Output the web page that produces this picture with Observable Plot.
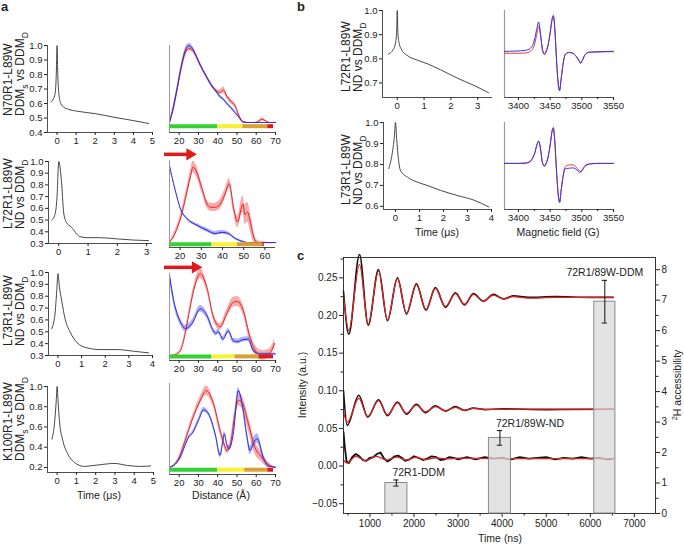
<!DOCTYPE html>
<html><head><meta charset="utf-8">
<script src="https://cdn.jsdelivr.net/npm/d3@7"></script>
<script src="https://cdn.jsdelivr.net/npm/@observablehq/plot@0.6"></script>
<style>
body{margin:0;background:#fff;}
#fig{position:relative;width:684px;height:545px;overflow:hidden;background:#fff;}
#fig svg{position:absolute;}
</style></head><body><div id="fig"></div>
<script>
// ================= DATA =================
// Panel a — DEER time traces (time in µs, normalised echo)
const a1T = [-0.32,-0.2,-0.1,-0.04,0,0.04,0.1,0.2,0.35,0.6,1,2,3,4,4.8];
const a1V = [0.61,0.63,0.67,0.8,1.0,0.8,0.66,0.6,0.575,0.56,0.548,0.53,0.505,0.482,0.462];
const a2T = [-0.24,-0.14,-0.06,0,0.09,0.17,0.26,0.43,0.71,0.94,1.39,1.96,2.52,3.06];
const a2V = [0.5,0.54,0.69,1.0,0.84,0.56,0.48,0.44,0.36,0.35,0.35,0.34,0.33,0.325];
const a3T = [-0.27,-0.13,-0.05,0,0.06,0.16,0.3,0.51,0.8,1.22,1.79,2.5,3.2,3.84];
const a3V = [0.525,0.64,0.85,0.99,0.88,0.76,0.61,0.5,0.41,0.365,0.35,0.35,0.336,0.322];
const a4T = [-0.27,-0.14,-0.05,0,0.05,0.12,0.29,0.55,0.89,1.41,1.92,2.6,2.95,3.64,4.33,4.85];
const a4V = [0.48,0.63,0.85,1.0,0.85,0.66,0.47,0.335,0.25,0.21,0.22,0.235,0.24,0.22,0.21,0.215];

// Panel a — distance distributions (Å); value, confidence half-width
const a1X    = [15,17,19,21,23,25,27,29,31,33,35,37,39,41,43,45,47,49,51,53,55,57,59,61,63,65,67,70];
const a1Red  = [0,0.18,0.43,0.69,0.89,0.96,0.94,0.85,0.74,0.65,0.56,0.48,0.42,0.39,0.42,0.33,0.27,0.22,0.09,0.01,0,0,0,0.01,0.04,0.02,0,0];
const a1RedW = [0,0.02,0.02,0.02,0.03,0.03,0.03,0.02,0.02,0.02,0.02,0.02,0.02,0.03,0.04,0.03,0.03,0.03,0.03,0.02,0.01,0,0,0.01,0.02,0.01,0,0];
const a1Blue = [0,0.2,0.45,0.72,0.92,1.0,0.96,0.86,0.75,0.65,0.56,0.47,0.41,0.34,0.3,0.24,0.19,0.13,0.07,0.01,0,0,0,0,0,0,0,0];
const a1BlueW= [0,0.02,0.02,0.02,0.03,0.03,0.03,0.02,0.02,0.02,0.02,0.02,0.02,0.02,0.02,0.02,0.02,0.02,0.01,0,0,0,0,0,0,0,0,0];

const a2RedX = [15,17,19.4,21,23.3,25,26.1,27.5,29.6,31,32.7,34.5,36.6,39,41.3,43.2,45.2,47.1,49.6,50.6,51.8,53.8,55.4,57,65];
const a2Red  = [0,0.08,0.23,0.37,0.63,0.82,0.92,0.88,0.72,0.6,0.47,0.43,0.43,0.47,0.6,0.72,0.43,0.25,0.47,0.34,0.37,0.17,0.02,0,0];
const a2RedW = [0,0.03,0.04,0.05,0.06,0.07,0.07,0.07,0.06,0.05,0.05,0.05,0.05,0.06,0.06,0.06,0.06,0.07,0.1,0.12,0.12,0.1,0.05,0.02,0];
const a2BlueX= [15,16,17.8,20.2,23.3,28,32.7,36.6,39.7,42.8,46,49.9,52,65];
const a2Blue = [0.94,0.82,0.63,0.41,0.29,0.21,0.15,0.11,0.125,0.11,0.05,0.01,0,0];
const a2BlueW= [0.01,0.01,0.01,0.01,0.015,0.02,0.025,0.025,0.025,0.02,0.015,0.01,0,0];

const a3RedX = [15,18,20.7,23,25,28.4,31,34.4,37.8,41.3,44.7,48.1,50.2,53.3,56.8,60.2,63.6,66,67.9,69.6];
const a3Red  = [0,0.01,0.06,0.25,0.5,0.87,1.0,0.83,0.47,0.35,0.51,0.65,0.66,0.55,0.22,0.04,0,0.02,0.06,0.15];
const a3RedW = [0,0.01,0.02,0.03,0.04,0.05,0.06,0.05,0.04,0.04,0.05,0.06,0.06,0.06,0.06,0.06,0.06,0.05,0.05,0.06];
const a3BlueX= [15,17.2,20.7,23.2,26.7,31,34.4,37.8,39,40.4,42.7,45.6,48.1,50.5,52.5,55.9,58.5,62,70];
const a3Blue = [0.98,0.67,0.41,0.33,0.39,0.57,0.49,0.3,0.27,0.29,0.2,0.3,0.18,0.17,0.19,0.2,0.06,0.02,0.02];
const a3BlueW= [0.06,0.05,0.04,0.04,0.04,0.04,0.04,0.03,0.03,0.03,0.03,0.03,0.03,0.03,0.03,0.03,0.02,0.01,0.01];

const a4RedX = [15,19,23.2,26.7,31,34.1,37.8,41.3,43.5,44.7,46.4,49,50.7,52.5,55.9,59.3,62.7,67,70];
const a4Red  = [0,0.07,0.34,0.59,0.84,0.96,0.8,0.46,0.28,0.21,0.27,0.67,0.84,0.82,0.55,0.25,0.13,0.02,0];
const a4RedW = [0,0.02,0.03,0.04,0.05,0.06,0.05,0.05,0.04,0.04,0.05,0.06,0.07,0.08,0.09,0.08,0.06,0.03,0];
const a4BlueX= [15,17,20.7,23,25,26.7,30.1,32.7,35.3,38.7,41.3,42.5,43.5,44.6,45.9,48.1,50.7,53,55,56.8,58.5,60.6,63.6,66.2,70];
const a4Blue = [0,0.02,0.13,0.27,0.38,0.42,0.59,0.72,0.67,0.42,0.15,0.3,0.42,0.3,0.23,0.42,0.96,0.75,0.42,0.21,0.3,0.36,0.13,0.02,0];
const a4BlueW= [0,0.01,0.02,0.02,0.02,0.02,0.03,0.03,0.03,0.03,0.03,0.03,0.03,0.03,0.03,0.03,0.04,0.04,0.04,0.05,0.06,0.06,0.04,0.02,0];

// reliability ranges (Å): green / yellow / orange / red boundaries
const a1Seg = [15,40,53,66,69];
const a2Seg = [15,35,47,59,59.7];
const a3Seg = [15,37,49,61.5,69];
const a4Seg = [15,40,54,66,69];
// shift arrows (Å)
const a2Shift = [15,26.5];
const a3Shift = [15,30.5];

// Panel b — DEER traces
const b1T = [-0.33,-0.14,-0.06,-0.02,0,0.02,0.06,0.15,0.36,0.74,1.11,1.61,2.24,2.86,3.4];
const b1V = [0.82,0.84,0.87,0.92,1.0,0.92,0.87,0.84,0.815,0.795,0.78,0.755,0.72,0.69,0.66];
const b2T = [-0.28,-0.14,-0.05,0,0.05,0.1,0.21,0.49,0.9,1.32,1.88,2.57,3.26,3.89];
const b2V = [0.78,0.85,0.93,1.0,0.92,0.85,0.77,0.74,0.716,0.7,0.676,0.652,0.63,0.597];
// Panel b — CW EPR spectra (field in G)
const bField = [3378,3400,3412,3418,3422,3426,3429,3432,3435,3438,3441,3444,3447,3450,3453,3455,3457,3459,3461,3463,3465,3467,3470,3474,3480,3486,3491,3495,3498,3501,3505,3512,3525,3550];
const b1Blue = [0.03,0.04,0.06,0.1,0.18,0.38,0.62,0.8,0.45,0.08,-0.03,0.05,0.22,0.5,0.85,0.95,0.7,0.15,-0.45,-0.85,-1.0,-0.75,-0.35,-0.05,0,-0.02,-0.1,-0.2,-0.28,-0.2,-0.06,0.01,0.02,0.03];
const b1Red  = [-0.02,-0.02,-0.01,0.02,0.08,0.25,0.48,0.68,0.45,0.04,-0.06,0.02,0.2,0.52,0.88,0.98,0.72,0.15,-0.45,-0.85,-1.0,-0.75,-0.35,-0.05,0,-0.02,-0.1,-0.2,-0.28,-0.2,-0.06,0,0.01,0.02];
const b2Blue = [0,0,0.01,0.05,0.14,0.3,0.5,0.6,0.36,0,-0.08,0,0.18,0.48,0.85,0.95,0.68,0.12,-0.45,-0.88,-1.05,-0.78,-0.4,-0.14,-0.13,-0.12,-0.16,-0.22,-0.24,-0.18,-0.08,-0.02,0,0];
const b2Red  = [0,0,0.01,0.04,0.12,0.28,0.48,0.6,0.38,0.02,-0.06,0.02,0.2,0.5,0.87,0.97,0.68,0.12,-0.45,-0.88,-1.05,-0.78,-0.38,-0.08,-0.04,-0.04,-0.1,-0.18,-0.22,-0.16,-0.06,-0.01,0,0];

// Panel c — ESEEM traces (time ns, intensity a.u.)
const cTopT    = [400,520,763,960,1194,1398,1624,1829,2055,2270,2486,2713,2940,3144,3348,3575,3800,4030,4250,4600,5200,6000,6520];
const cTopFit  = [0.226,0.18,0.268,0.188,0.259,0.194,0.249,0.203,0.241,0.208,0.236,0.212,0.229,0.215,0.228,0.219,0.227,0.222,0.225,0.223,0.224,0.224,0.224];
const cTopData = [0.232,0.175,0.281,0.187,0.261,0.193,0.25,0.202,0.242,0.207,0.237,0.211,0.23,0.214,0.229,0.219,0.228,0.222,0.226,0.224,0.225,0.224,0.224];
const cMidT    = [400,484,747,951,1194,1398,1624,1829,2055,2260,2486,2713,2940,3144,3348,3600,4000,5000,6520];
const cMidFit  = [0.072,0.058,0.09,0.066,0.087,0.068,0.084,0.07,0.081,0.072,0.079,0.0735,0.078,0.074,0.0765,0.0752,0.0756,0.0755,0.0755];
const cMidData = [0.1,0.054,0.094,0.065,0.088,0.067,0.085,0.069,0.082,0.071,0.08,0.073,0.079,0.074,0.077,0.075,0.076,0.075,0.0755];
const cBotFitT = [400,480,680,900,1150,1380,1600,1820,2050,2270,2500,2750,3000,4000,6520];
const cBotFit  = [0.008,0.004,0.013,0.007,0.013,0.008,0.012,0.008,0.0115,0.0085,0.011,0.0095,0.0105,0.0098,0.0098];
const cBotT    = [400,430,470,520,600,680,760,840,920,1000,1080,1160,1240,1320,1400,1480,1560,1640,1720,1800,1900,2000,2100,2200,2300,2400,2500,2600,2700,2800,2900,3000,3200,3400,3600,3800,4000,4200,4400,4600,4800,5000,5200,5400,5600,5800,6000,6200,6400,6520];
const cBotData = [0.045,0.025,0.006,0.004,0.012,0.016,0.013,0.008,0.007,0.011,0.012,0.016,0.018,0.01,0.006,0.009,0.013,0.014,0.011,0.007,0.009,0.013,0.011,0.008,0.01,0.013,0.012,0.008,0.009,0.012,0.011,0.009,0.012,0.009,0.012,0.01,0.011,0.009,0.012,0.01,0.011,0.012,0.009,0.011,0.01,0.012,0.01,0.011,0.009,0.01];
// Panel c — ²H accessibility bars
const cLabels = ["72R1-DDM","72R1/89W-ND","72R1/89W-DDM"];
const cStart  = [1350,3700,6090];
const cEnd    = [1850,4200,6570];
const cAcc    = [1.0,2.48,6.95];
const cErr    = [0.1,0.24,0.7];
// tick labels
const cXTicks = [1000,2000,3000,4000,5000,6000,7000];
const cLeftTicks = [-0.05,0,0.05,0.1,0.15,0.2,0.25];
const cRightTicks = [0,1,2,3,4,5,6,7,8];

// ================= STYLE =================
const FONT = '"Liberation Sans",Arial,Helvetica,sans-serif';
const RED = "#e3262b", REDBAND = "#f07474", BLUE = "#2b2be3", BLUEBAND = "#7070ee";
const SEG_COLORS = ["#34d034","#f6f232","#d9a12f","#de1b1b"];
const AX = "#222";
const fig = document.getElementById("fig");
const rows = (xs, ys, ws) => xs.map((x, i) => ({x, y: ys[i], w: ws ? ws[i] : 0}));

function build({frame: [x0, y0, x1, y1], xDom, yDom, mL = 34, mR = 6, mT = 6, mB = 22, xAxis = true, yAxis = true, fontSize = "9.5px", marks}) {
  const svg = Plot.plot({
    width: (x1 - x0) + mL + mR, height: (y1 - y0) + mT + mB,
    marginLeft: mL, marginRight: mR, marginTop: mT, marginBottom: mB,
    x: xAxis ? {domain: xDom} : {domain: xDom, axis: null},
    y: yAxis ? {domain: yDom} : {domain: yDom, axis: null},
    color: {type: "identity"},
    style: {background: "transparent", overflow: "visible", fontFamily: FONT, fontSize, color: AX},
    marks: marks.filter(Boolean)
  });
  svg.style.position = "absolute";
  svg.style.left = (x0 - mL) + "px";
  svg.style.top = (y0 - mT) + "px";
  fig.appendChild(svg);
}

function timePanel(frame, xDom, yDom, T, V, xTicks, yTicks) {
  build({frame, xDom, yDom, marks: [
    Plot.ruleX([xDom[0]], {stroke: AX, strokeWidth: 0.8}),
    Plot.ruleY([yDom[0]], {stroke: AX, strokeWidth: 0.8}),
    Plot.axisX({ticks: xTicks, tickFormat: "d", tickSize: 3, tickPadding: 1.5, label: null}),
    Plot.axisY({ticks: yTicks, tickSize: 3, tickPadding: 2, tickFormat: d3.format(".1f"), label: null}),
    Plot.line(rows(T, V), {x: "x", y: "y", stroke: "#333", strokeWidth: 0.9, curve: "monotone-x"})
  ]});
}

function distPanel(frame, xDom, yDom, red, blue, seg, barY, shift) {
  const segRows = seg.slice(0, -1).map((a, i) => ({a, b: seg[i + 1], c: SEG_COLORS[i]}));
  const arrowY = yDom[1] * 1.075;
  build({frame, xDom, yDom, mL: 8, yAxis: false, marks: [
    Plot.areaY(red, {x: "x", y1: d => d.y - d.w, y2: d => d.y + d.w, fill: REDBAND, fillOpacity: 0.6, curve: "monotone-x"}),
    Plot.areaY(blue, {x: "x", y1: d => d.y - d.w, y2: d => d.y + d.w, fill: BLUEBAND, fillOpacity: 0.55, curve: "monotone-x"}),
    Plot.line(red, {x: "x", y: "y", stroke: RED, strokeWidth: 1, curve: "monotone-x"}),
    Plot.line(blue, {x: "x", y: "y", stroke: BLUE, strokeWidth: 1, curve: "monotone-x"}),
    Plot.ruleX([xDom[0]], {stroke: "#9a9a9a", strokeWidth: 1}),
    Plot.ruleY([yDom[0]], {stroke: AX, strokeWidth: 0.8}),
    Plot.ruleY(segRows, {x1: "a", x2: "b", y: () => barY, stroke: "c", strokeWidth: 4}),
    Plot.axisX({ticks: d3.range(20, xDom[1] + 1, 10), tickFormat: "d", tickSize: 3, tickPadding: 1.5, label: null}),
    shift ? Plot.ruleY([shift], {x1: d => d[0], x2: d => d[1], y: () => arrowY, dx: -5, stroke: "#e0191b", strokeWidth: 3.5}) : null,
    shift ? Plot.dot([shift], {x: d => d[1], y: () => arrowY, dx: -4, symbol: "triangle", r: 4.5, rotate: 90, fill: "#e0191b", stroke: "none"}) : null
  ]});
}

function specPanel(frame, yDom, red, blue) {
  build({frame, xDom: [3378, 3550], yDom, mL: 8, mR: 14, yAxis: false, marks: [
    Plot.ruleX([3378], {stroke: "#9a9a9a", strokeWidth: 1.2}),
    Plot.ruleY([yDom[0]], {stroke: AX, strokeWidth: 0.8}),
    Plot.axisX({ticks: [3400, 3450, 3500, 3550], tickFormat: "d", tickSize: 3, tickPadding: 1.5, label: null}),
    Plot.axisX({ticks: [3425, 3475, 3525], tickSize: 2, tickFormat: () => "", label: null}),
    Plot.line(rows(bField, red), {x: "x", y: "y", stroke: "#e33b3b", strokeWidth: 1, curve: "monotone-x"}),
    Plot.line(rows(bField, blue), {x: "x", y: "y", stroke: "#3535e6", strokeWidth: 1, curve: "monotone-x", strokeDasharray: "3,0.6"})
  ]});
}

// ----- panel a -----
timePanel([47, 45, 152, 132], [-0.5, 5], [0.4, 1.0], a1T, a1V, [0,1,2,3,4,5], [0.4,0.5,0.6,0.7,0.8,0.9,1.0]);
timePanel([48, 161, 152, 243], [-0.35, 3.2], [0.3, 1.0], a2T, a2V, [0,1,2,3], [0.3,0.4,0.5,0.6,0.7,0.8,0.9,1.0]);
timePanel([48, 272, 152, 355], [-0.4, 4], [0.3, 1.0], a3T, a3V, [0,1,2,3,4], [0.3,0.4,0.5,0.6,0.7,0.8,0.9,1.0]);
timePanel([47, 386, 153, 472], [-0.5, 5], [0.15, 1.0], a4T, a4V, [0,1,2,3,4,5], [0.2,0.4,0.6,0.8,1.0]);

distPanel([169, 45, 275, 132], [15, 70], [-0.13, 1.0], rows(a1X, a1Red, a1RedW), rows(a1X, a1Blue, a1BlueW), a1Seg, -0.048, null);
distPanel([169, 160, 275, 247], [15, 65], [-0.06, 1.0], rows(a2RedX, a2Red, a2RedW), rows(a2BlueX, a2Blue, a2BlueW), a2Seg, -0.02, a2Shift);
distPanel([169, 273, 275, 360], [15, 70], [-0.06, 1.0], rows(a3RedX, a3Red, a3RedW), rows(a3BlueX, a3Blue, a3BlueW), a3Seg, -0.01, a3Shift);
distPanel([169, 383, 275, 474], [15, 70], [-0.09, 1.05], rows(a4RedX, a4Red, a4RedW), rows(a4BlueX, a4Blue, a4BlueW), a4Seg, -0.03, null);

// ----- panel b -----
timePanel([382, 10, 492, 97], [-0.55, 3.55], [0.64, 1.0], b1T, b1V, [0,1,2,3], [0.7,0.8,0.9,1.0]);
timePanel([383, 122, 491, 209], [-0.5, 4], [0.585, 1.0], b2T, b2V, [0,1,2,3,4], [0.6,0.7,0.8,0.9,1.0]);
specPanel([504, 10, 613, 97], [-1.18, 1.1], b1Red, b1Blue);
specPanel([504, 122, 613, 209], [-1.24, 1.1], b2Red, b2Blue);

// ----- panel c -----
const cFrame = [343, 257, 655, 513], cX = [400, 7480];
build({frame: cFrame, xDom: cX, yDom: [-0.063, 0.277], mL: 46, mR: 30, mT: 6, mB: 22, fontSize: "10px", marks: [
  Plot.line(rows(cTopT, cTopData), {x: "x", y: "y", stroke: "#111", strokeWidth: 1.6, curve: "monotone-x"}),
  Plot.line(rows(cMidT, cMidData), {x: "x", y: "y", stroke: "#111", strokeWidth: 1.6, curve: "monotone-x", clip: true}),
  Plot.line(rows(cBotT, cBotData), {x: "x", y: "y", stroke: "#111", strokeWidth: 1.8, curve: "linear", clip: true}),
  Plot.line(rows(cTopT, cTopFit), {x: "x", y: "y", stroke: "#e02222", strokeWidth: 1.3, curve: "monotone-x", clip: true}),
  Plot.line(rows(cMidT, cMidFit), {x: "x", y: "y", stroke: "#e02222", strokeWidth: 1.3, curve: "monotone-x", clip: true}),
  Plot.line(rows(cBotFitT, cBotFit), {x: "x", y: "y", stroke: "#e02222", strokeWidth: 1.3, curve: "monotone-x", clip: true}),
  Plot.frame({stroke: AX, strokeWidth: 0.9}),
  Plot.axisX({ticks: cXTicks, tickFormat: "d", tickSize: 4, tickPadding: 2, label: null}),
  Plot.axisX({ticks: d3.range(500, 7001, 1000), tickSize: 2.5, tickFormat: () => "", label: null}),
  Plot.axisY({ticks: cLeftTicks, tickFormat: d3.format(".2f"), tickSize: 4, tickPadding: 2, label: null}),
  Plot.axisY({ticks: [-0.025,0.025,0.075,0.125,0.175,0.225,0.275], tickSize: 2.5, tickFormat: () => "", label: null})
]});
const cBars = cLabels.map((label, i) => ({label, start: cStart[i], end: cEnd[i], mid: (cStart[i] + cEnd[i]) / 2, v: cAcc[i], lo: cAcc[i] - cErr[i], hi: cAcc[i] + cErr[i], anchor: i < 2 ? "start" : "middle"}));
build({frame: cFrame, xDom: cX, yDom: [0, 8.4], mL: 46, mR: 30, mT: 6, mB: 22, xAxis: false, fontSize: "10px", marks: [
  Plot.rect(cBars, {x1: "start", x2: "end", y1: () => 0, y2: "v", fill: "#d8d8d8", fillOpacity: 0.72, stroke: "#8a8a8a", strokeWidth: 1}),
  Plot.ruleX(cBars, {x: "mid", y1: "lo", y2: "hi", stroke: "#111", strokeWidth: 1}),
  Plot.ruleY(cBars, {y: "lo", x1: d => d.mid - 60, x2: d => d.mid + 60, stroke: "#111", strokeWidth: 1}),
  Plot.ruleY(cBars, {y: "hi", x1: d => d.mid - 60, x2: d => d.mid + 60, stroke: "#111", strokeWidth: 1}),
  Plot.text(cBars.filter(d => d.anchor === "start"), {x: "mid", y: "hi", text: "label", textAnchor: "start", lineAnchor: "bottom", dx: -4, dy: -4, fontSize: 10.5, fill: "#222"}),
  Plot.text(cBars.filter(d => d.anchor === "middle"), {x: "mid", y: "hi", text: "label", textAnchor: "middle", lineAnchor: "bottom", dy: -4, fontSize: 10.5, fill: "#222"}),
  Plot.axisY({anchor: "right", ticks: cRightTicks, tickSize: 4, tickPadding: 2, label: null}),
  Plot.axisY({anchor: "right", ticks: d3.range(0.5, 8.5, 1), tickSize: 2.5, tickFormat: () => "", label: null})
]});

// ================= ANNOTATION TEXT =================
const rowNamesA = ["N70R1-L89W","L72R1-L89W","L73R1-L89W","K100R1-L89W"];
const rowCondA  = ["DDM_s vs DDM_D","ND vs DDM_D","ND vs DDM_D","DDM_s vs DDM_D"];
const rowNamesB = ["L72R1-L89W","L73R1-L89W"];
const rowCondB  = ["ND vs DDM_D","ND vs DDM_D"];

const ann = d3.select(fig).append("svg").attr("width", 684).attr("height", 545)
  .style("left", "0px").style("top", "0px").style("pointer-events", "none")
  .attr("font-family", FONT).attr("fill", "#222");

function richText(g, str, size) {
  const t = g.append("text").attr("font-size", size);
  let shifted = false;
  str.split(/(_\w)/).filter(Boolean).forEach(part => {
    if (part[0] === "_") {
      t.append("tspan").attr("dy", size * 0.3).attr("font-size", size * 0.72).text(part[1]);
      shifted = true;
    } else {
      const s = t.append("tspan").text(part);
      if (shifted) { s.attr("dy", -size * 0.3); shifted = false; }
    }
  });
  return t;
}
function rotLabel(x, y, str, anchor, size) {
  const g = ann.append("g").attr("transform", `translate(${x},${y}) rotate(-90)`);
  richText(g, str, size).attr("text-anchor", anchor);
}
const aRowBottom = [116, 229, 346, 461];
rowNamesA.forEach((n, i) => { rotLabel(12, aRowBottom[i], n, "start", 12); rotLabel(24, aRowBottom[i], rowCondA[i], "start", 12); });
const bRowBottom = [92, 205];
rowNamesB.forEach((n, i) => { rotLabel(350, bRowBottom[i], n, "start", 12); rotLabel(362, bRowBottom[i], rowCondB[i], "start", 12); });

function label(x, y, str, size) {
  ann.append("text").attr("x", x).attr("y", y).attr("text-anchor", "middle").attr("font-size", size).text(str);
}
["a", "b", "c"].forEach((s, i) => ann.append("text").attr("x", [1, 297, 297][i]).attr("y", [11, 11, 260][i]).attr("font-size", 13).attr("font-weight", "bold").text(s));
label(99, 499, "Time (\u03bcs)", 10.5);
label(221, 499, "Distance (\u00c5)", 10.5);
label(437, 236, "Time (\u03bcs)", 10.5);
label(558, 236, "Magnetic field (G)", 10.5);
label(500, 542, "Time (ns)", 10.5);
rotLabel(306, 385, "Intensity (a.u.)", "middle", 10.5);
const gH = ann.append("g").attr("transform", "translate(681,385) rotate(-90)");
const tH = gH.append("text").attr("font-size", 10.5).attr("text-anchor", "middle");
tH.append("tspan").attr("dy", -4).attr("font-size", 7.5).text("2");
tH.append("tspan").attr("dy", 4).text("H accessibility");
</script></body></html>
